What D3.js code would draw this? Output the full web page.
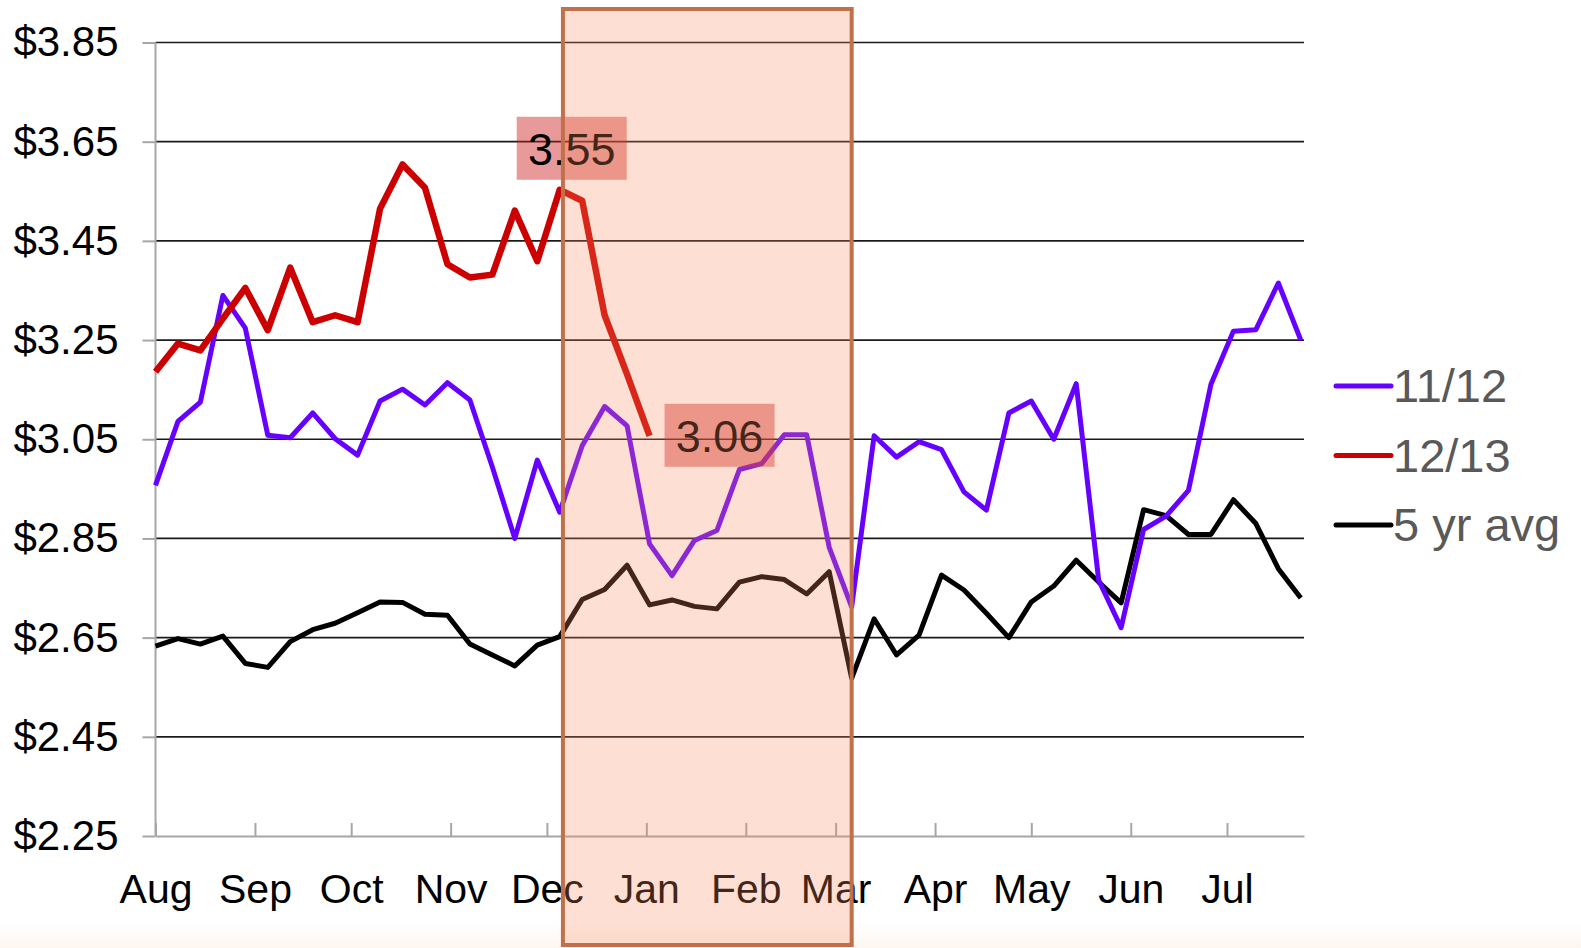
<!DOCTYPE html>
<html lang="en">
<head>
	<meta charset="utf-8">
	<title>Weekly price comparison</title>
	<script src="https://d3js.org/d3.v7.min.js" charset="utf-8"></script>
	<style>
		body { margin: 0; background: #fff; }
		text { font-family: "Liberation Sans", Arial, sans-serif; }
	</style>
</head>
<body>
	<script>
    // weekly dates (Aug - Jul)
    var weeks = ["2012-08-01","2012-08-08","2012-08-15","2012-08-22","2012-08-29",
      "2012-09-05","2012-09-12","2012-09-19","2012-09-26",
      "2012-10-03","2012-10-10","2012-10-17","2012-10-24","2012-10-31",
      "2012-11-07","2012-11-14","2012-11-21","2012-11-28",
      "2012-12-05","2012-12-12","2012-12-19","2012-12-26",
      "2013-01-02","2013-01-09","2013-01-16","2013-01-23","2013-01-30",
      "2013-02-06","2013-02-13","2013-02-20","2013-02-27",
      "2013-03-06","2013-03-13","2013-03-20","2013-03-27",
      "2013-04-03","2013-04-10","2013-04-17","2013-04-24",
      "2013-05-01","2013-05-08","2013-05-15","2013-05-22","2013-05-29",
      "2013-06-05","2013-06-12","2013-06-19","2013-06-26",
      "2013-07-03","2013-07-10","2013-07-17","2013-07-24"];

    var s1112 = [2.957, 3.086, 3.125, 3.340, 3.274, 3.058, 3.053, 3.103, 3.051, 3.018,
      3.127, 3.151, 3.119, 3.164, 3.129, 2.994, 2.850, 3.008, 2.903,
      3.037, 3.116, 3.077, 2.839, 2.775, 2.846, 2.866, 2.989, 3.001, 3.059, 3.059, 2.832, 2.712,
      3.057, 3.014, 3.045, 3.029, 2.944, 2.907, 3.103, 3.127, 3.050, 3.162, 2.766, 2.670,
      2.868, 2.895, 2.947, 3.161, 3.268, 3.271, 3.365, 3.250];

    var s1213 = [3.186, 3.243, 3.229, 3.293, 3.355, 3.270, 3.396, 3.286, 3.300, 3.286,
      3.515, 3.604, 3.557, 3.403, 3.376, 3.382, 3.511, 3.409, 3.553, 3.531, 3.300, 3.181, 3.057];

    var avg5 = [2.633, 2.648, 2.637, 2.653, 2.598, 2.590, 2.642, 2.666, 2.679, 2.700,
      2.722, 2.721, 2.697, 2.695, 2.637, 2.615, 2.593, 2.635, 2.652,
      2.727, 2.747, 2.796, 2.716, 2.726, 2.713, 2.708, 2.762, 2.773, 2.767, 2.738, 2.783,
      2.568, 2.688, 2.615, 2.655, 2.776, 2.746, 2.699, 2.650, 2.722, 2.754, 2.806, 2.762,
      2.720, 2.908, 2.896, 2.858, 2.858, 2.928, 2.880, 2.789, 2.730];

    var seriesNames = ["11/12", "12/13", "5 yr avg"];
    var seriesColors = ["#6600ff", "#cc0000", "#000000"];
    var yTicks = [2.25, 2.45, 2.65, 2.85, 3.05, 3.25, 3.45, 3.65, 3.85];
    var highlight = ["2012-12-06", "2013-03-06"];
    // callouts: [week index, text]
    var callouts = [[18, "3.55"], [22, "3.06"]];

    var width = 1581;
    var height = 948;
    var parse = d3.utcParse("%Y-%m-%d");
    var dates = weeks.map(parse);

    var x = d3.scaleUtc()
        .domain([dates[0], parse("2013-07-25")])
        .range([155.5, 1304]);

    var y = d3.scaleLinear()
        .domain([2.25, 3.85])
        .range([836, 42.5]);

    var svg = d3.select("body").append("svg")
        .attr("width", width)
        .attr("height", height);

    // faint slide tint at the very bottom
    var grad = svg.append("defs").append("linearGradient")
        .attr("id", "bottomTint").attr("x1", 0).attr("x2", 0).attr("y1", 0).attr("y2", 1);
    grad.append("stop").attr("offset", 0).attr("stop-color", "#fff");
    grad.append("stop").attr("offset", 1).attr("stop-color", "#fdf6f0");
    svg.append("rect")
        .attr("x", 0).attr("y", 922).attr("width", width).attr("height", 26)
        .attr("fill", "url(#bottomTint)");

    // gridlines
    svg.append("g").selectAll("line")
        .data(yTicks.slice(1))
        .enter().append("line")
        .attr("x1", 155.5).attr("x2", 1304)
        .attr("y1", function(d) { return y(d); })
        .attr("y2", function(d) { return y(d); })
        .style("stroke", "#1a1a1a")
        .style("stroke-width", 1.7);

    // y axis
    var yAxis = svg.append("g")
        .attr("transform", "translate(155.5,0)")
        .call(d3.axisLeft(y).tickValues(yTicks).tickSize(13).tickPadding(24)
          .tickFormat(function(d) { return "$" + d.toFixed(2); }));
    yAxis.select(".domain").remove();
    yAxis.selectAll(".tick line").style("stroke", "#a6a6a6").style("stroke-width", 2);
    yAxis.selectAll("text").style("font-size", "42px").style("fill", "#000")
        .style("font-family", "'Liberation Sans', Arial, sans-serif");
    svg.append("line")
        .attr("x1", 155.5).attr("x2", 155.5).attr("y1", y(3.85)).attr("y2", y(2.25))
        .style("stroke", "#a6a6a6").style("stroke-width", 2);

    // x axis with month ticks pointing up
    var months = d3.utcMonth.range(dates[0], parse("2013-07-25"));
    var xAxis = svg.append("g")
        .attr("transform", "translate(0,836)")
        .call(d3.axisBottom(x).tickValues(months).tickSize(-13).tickSizeOuter(0).tickPadding(38)
          .tickFormat(d3.utcFormat("%b")));
    xAxis.select(".domain").style("stroke", "#a6a6a6").style("stroke-width", 2);
    xAxis.selectAll(".tick line").style("stroke", "#a6a6a6").style("stroke-width", 2);
    xAxis.selectAll("text").style("font-size", "41px").style("fill", "#000")
        .style("font-family", "'Liberation Sans', Arial, sans-serif");

    // lines
    var line = d3.line()
        .x(function(d, i) { return x(dates[i]); })
        .y(function(d) { return y(d); });

    var series = [s1112, s1213, avg5];
    var widths = [5, 6.5, 5];
    [2, 0, 1].forEach(function(k) {
      svg.append("path")
          .datum(series[k])
          .attr("d", line)
          .style("fill", "none")
          .style("stroke", seriesColors[k])
          .style("stroke-width", widths[k])
          .style("stroke-linejoin", "round");
    });

    // value callouts on the 12/13 line
    callouts.forEach(function(c, j) {
      var px = x(dates[c[0]]), py = y(s1213[c[0]]);
      var bx, by;
      if (j === 0) { bx = px - 43; by = py - 73; }
      else { bx = px + 15; by = py - 32; }
      svg.append("rect")
          .attr("x", bx).attr("y", by).attr("width", 110).attr("height", 63)
          .style("fill", "rgb(204,32,32)").style("fill-opacity", 0.45);
      svg.append("text")
          .attr("x", bx + 55).attr("y", by + 48)
          .attr("text-anchor", "middle")
          .style("font-size", "45px")
          .style("fill", "#000")
          .text(c[1]);
    });

    // highlighted winter period
    var hx0 = x(parse(highlight[0])), hx1 = x(parse(highlight[1]));
    svg.append("rect")
        .attr("x", hx0).attr("y", 9).attr("width", hx1 - hx0).attr("height", 936)
        .style("fill", "rgb(247,140,92)").style("fill-opacity", 0.27)
        .style("stroke", "#c0704a").style("stroke-width", 4);

    // legend
    var legend = svg.append("g").selectAll("g")
        .data(seriesNames)
        .enter().append("g")
        .attr("transform", function(d, i) { return "translate(1336," + (386 + i * 69.5) + ")"; });
    legend.append("line")
        .attr("x1", 0).attr("x2", 55)
        .style("stroke", function(d, i) { return seriesColors[i]; })
        .style("stroke-width", 5)
        .style("stroke-linecap", "round");
    legend.append("text")
        .attr("x", 57).attr("y", 16)
        .style("font-size", "47px")
        .style("fill", "#595959")
        .text(function(d) { return d; });
	</script>
</body>
</html>
